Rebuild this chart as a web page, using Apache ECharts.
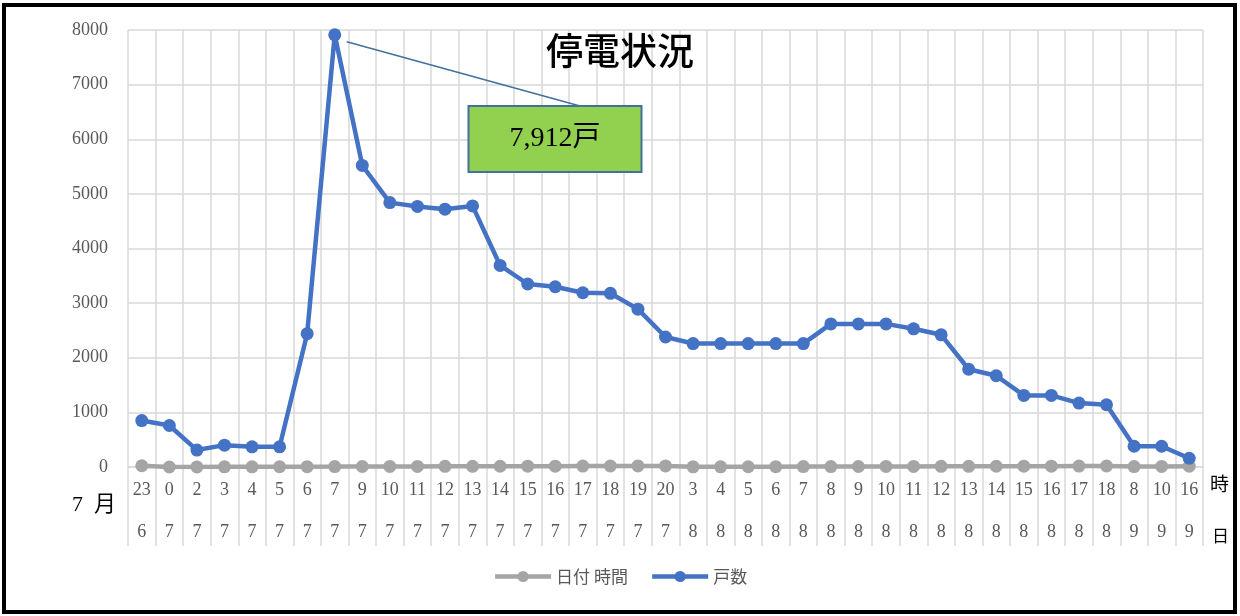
<!DOCTYPE html>
<html>
<head>
<meta charset="utf-8">
<script src="https://cdn.jsdelivr.net/npm/echarts@6/dist/echarts.min.js"></script>
<style>
  html, body { margin: 0; padding: 0; background: #fff; }
  #chart { width: 1240px; height: 616px; }
</style>
</head>
<body>
<div id="chart"></div>
<script>
// 時・日 のラベル
const hours = ['23','0','2','3','4','5','6','7','9','10','11','12','13','14','15','16','17','18','19','20',
               '3','4','5','6','7','8','9','10','11','12','13','14','15','16','17','18',
               '8','10','16'];
const days = ['6','7','7','7','7','7','7','7','7','7','7','7','7','7','7','7','7','7','7','7',
              '8','8','8','8','8','8','8','8','8','8','8','8','8','8','8','8',
              '9','9','9'];

// 日付 時間 (ほぼ0に見える系列)
const dateTime = [23,0,2,3,4,5,6,7,9,10,11,12,13,14,15,16,17,18,19,20,
                  3,4,5,6,7,8,9,10,11,12,13,14,15,16,17,18,
                  8,10,16];

// 戸数
const households = [850,760,310,400,370,370,2440,7912,5520,4840,4770,4720,4780,3690,3350,3300,3190,3180,2890,2380,
                    2260,2260,2260,2260,2260,2620,2620,2620,2530,2420,1790,1670,1310,1310,1170,1140,
                    380,380,160];

const yTicks = { min: 0, max: 8000, interval: 1000 };
const peakIndex = 7;

let myChart = echarts.init(document.getElementById('chart'));

const gridColor = '#D9D9D9';
const labelColor = '#595959';
const serif = '"Liberation Serif", "Noto Sans CJK JP", serif';
const calloutColor = '#41719C';

option = {
    backgroundColor: '#fff',
    animation: false,
    title: {
        text: '停電状況',
        left: 'center',
        top: 27,
        textStyle: {
            fontFamily: '"Noto Sans CJK JP", sans-serif',
            fontSize: 37,
            fontWeight: 500,
            color: '#000'
        }
    },
    legend: {
        bottom: 26,
        left: 'center',
        itemWidth: 56,
        itemHeight: 14,
        itemGap: 22,
        lineStyle: { width: 4.5 },
        data: ['日付 時間', '戸数'],
        textStyle: {
            fontFamily: '"Noto Sans CJK JP", sans-serif',
            fontSize: 17,
            color: labelColor
        }
    },
    grid: {
        left: 128,
        right: 37,
        top: 30,
        bottom: 149
    },
    xAxis: [
        {
            type: 'category',
            data: hours,
            boundaryGap: true,
            axisLine: { show: true, lineStyle: { color: gridColor, width: 1.5 } },
            axisTick: { show: true, interval: 0, length: 79, lineStyle: { color: gridColor, width: 1.5 } },
            axisLabel: {
                interval: 0,
                margin: 14,
                fontFamily: serif,
                fontSize: 18,
                color: labelColor
            },
            splitLine: { show: true, interval: 0, lineStyle: { color: gridColor, width: 1.5 } }
        },
        {
            type: 'category',
            data: days,
            position: 'bottom',
            boundaryGap: true,
            axisLine: { show: false },
            axisTick: { show: false },
            axisLabel: {
                interval: 0,
                margin: 56,
                fontFamily: serif,
                fontSize: 18,
                color: labelColor
            },
            splitLine: { show: false }
        }
    ],
    yAxis: {
        type: 'value',
        min: yTicks.min,
        max: yTicks.max,
        interval: yTicks.interval,
        axisLine: { show: false },
        axisTick: { show: false },
        axisLabel: {
            margin: 20,
            formatter: v => String(v),
            fontFamily: serif,
            fontSize: 18,
            color: labelColor
        },
        splitLine: { lineStyle: { color: gridColor, width: 1.5 } }
    },
    series: [
        {
            name: '日付 時間',
            type: 'line',
            data: dateTime,
            symbol: 'circle',
            symbolSize: 13,
            lineStyle: { width: 4.5, color: '#A5A5A5' },
            itemStyle: { color: '#A5A5A5' }
        },
        {
            name: '戸数',
            type: 'line',
            data: households.map((v, i) => i === peakIndex ? {
                value: v,
                label: {
                    show: true,
                    formatter: p => p.value.toLocaleString('en-US') + '戸',
                    fontFamily: serif,
                    fontSize: 28,
                    color: '#000',
                    backgroundColor: '#92D050',
                    borderColor: calloutColor,
                    borderWidth: 2,
                    padding: [17, 40, 15, 40],
                    lineHeight: 32
                }
            } : v),
            symbol: 'circle',
            symbolSize: 13,
            lineStyle: { width: 4.5, color: '#4472C4' },
            itemStyle: { color: '#4472C4' },
            z: 3,
            labelLayout: function (params) {
                if (params.dataIndex === peakIndex) {
                    return { x: 555, y: 139, align: 'center', verticalAlign: 'middle' };
                }
            }
        }
    ],
    graphic: [
        {
            type: 'rect',
            shape: { x: 4, y: 5, width: 1231, height: 607 },
            style: { fill: null, stroke: '#000', lineWidth: 4 },
            silent: true
        },
        {
            type: 'text',
            left: 72,
            top: 494,
            style: { text: '7\u2002月', font: '22px "Liberation Serif", "Noto Sans CJK JP", serif', fill: '#000' }
        },
        {
            type: 'text',
            left: 1210,
            top: 474,
            style: { text: '時', font: '19px "Noto Sans CJK JP", sans-serif', fill: '#000' }
        },
        {
            type: 'text',
            left: 1212,
            top: 527,
            style: { text: '日', font: '17px "Noto Sans CJK JP", sans-serif', fill: '#000' }
        }
    ]
};

myChart.setOption(option);

// 吹き出しの引き出し線 (ピーク点から枠の上辺へ)
const peak = myChart.convertToPixel({ seriesIndex: 1 }, [peakIndex, households[peakIndex]]);
myChart.setOption({
    graphic: [
        {
            id: 'leader',
            type: 'line',
            shape: { x1: peak[0] + 12, y1: peak[1] + 7, x2: 580, y2: 106 },
            style: { stroke: calloutColor, lineWidth: 1.5 },
            z: 10,
            silent: true
        }
    ]
});
</script>
</body>
</html>
